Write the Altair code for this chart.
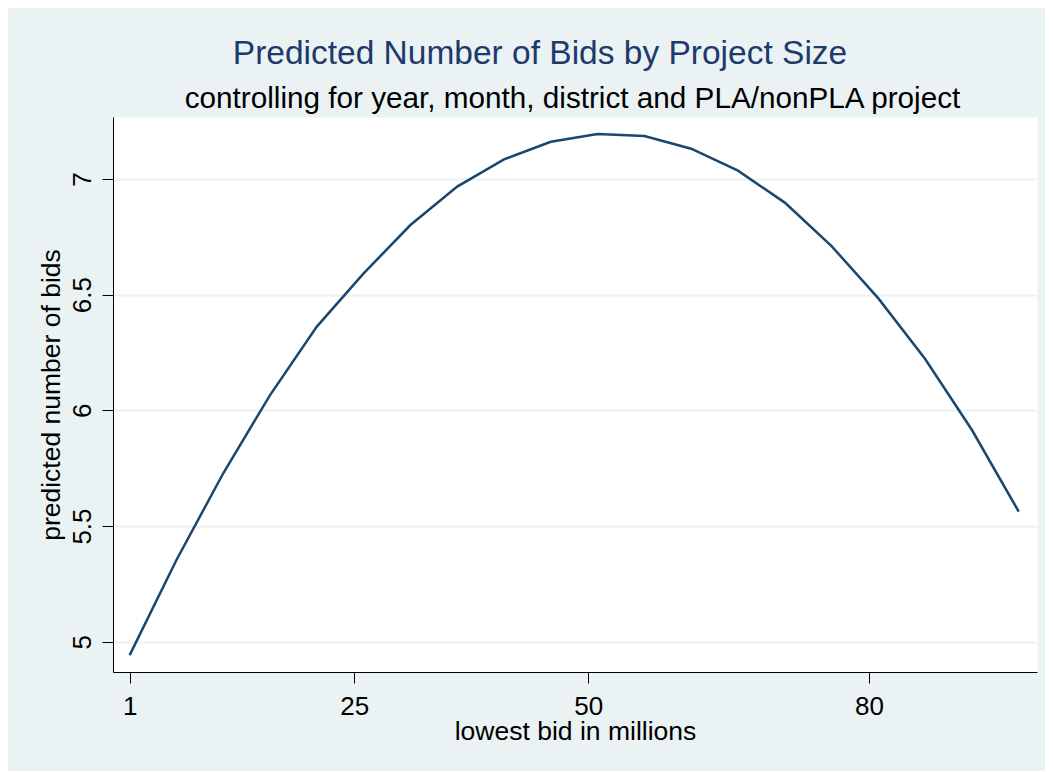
import altair as alt
import pandas as pd

# ---- data ----
lowest_bid = [1, 6, 11, 16, 21, 26, 31, 36, 41, 46, 51, 56, 61, 66, 71, 76, 81, 86, 91, 96]
predicted_bids = [4.942, 5.353, 5.728, 6.066, 6.362, 6.592, 6.801, 6.967, 7.085, 7.161,
                  7.194, 7.186, 7.131, 7.036, 6.898, 6.710, 6.484, 6.222, 5.915, 5.562]
x_ticks = [1, 25, 50, 80]
y_ticks = [5, 5.5, 6, 6.5, 7]

title_text = "Predicted Number of Bids by Project Size"
subtitle_text = "controlling for year, month, district and PLA/nonPLA project"
x_title = "lowest bid in millions"
y_title = "predicted number of bids"

df = pd.DataFrame({"bid": lowest_bid, "pred": predicted_bids})

FONT = "Liberation Sans"
BG = "#eaf2f3"
x_scale = alt.Scale(domain=[-0.78, 97.95], nice=False, zero=False)
y_scale = alt.Scale(domain=[4.869, 7.268], nice=False, zero=False)

y_axis = alt.Axis(
    orient="left", values=y_ticks, format=".1~f", title=y_title,
    grid=True, gridColor=BG, gridWidth=2,
    domainColor="black", domainWidth=1, tickColor="black", tickSize=11, tickWidth=1,
    labelAngle=270, labelAlign="center", labelBaseline="alphabetic", labelPadding=12,
    labelFontSize=26, labelColor="black", labelFont=FONT,
    titleFont=FONT, titleFontSize=26.5, titleFontWeight="normal", titleColor="black",
    titleAngle=270, titleAlign="center", titleBaseline="alphabetic",
    titleX=-54, titleY=277.5,
)
y_enc = alt.Y("pred:Q", scale=y_scale, axis=y_axis)

base = alt.Chart(df)

line = base.mark_line(color="#1a476f", strokeWidth=2.5).encode(
    x=alt.X(
        "bid:Q", scale=x_scale,
        axis=alt.Axis(
            orient="bottom", values=x_ticks, title=x_title, grid=False,
            domainColor="black", domainWidth=1, tickColor="black", tickSize=11, tickWidth=1,
            labelFontSize=26, labelColor="black", labelPadding=10, labelFont=FONT,
            titleFont=FONT, titleFontSize=26.5, titleFontWeight="normal", titleColor="black",
            titleBaseline="alphabetic", titleAlign="center", titleY=67, titleX=462,
        ),
    ),
    y=y_enc,
)

top = base.mark_line(strokeOpacity=0).encode(
    x=alt.X(
        "bid:Q", scale=x_scale,
        axis=alt.Axis(
            orient="top", title=subtitle_text, labels=False, ticks=False, domain=False, grid=False,
            titleFont=FONT, titleFontSize=29.7, titleFontWeight="normal", titleColor="black",
            titleAlign="center", titleBaseline="alphabetic", titleX=459, titleY=-9.7,
        ),
    ),
    y=y_enc,
)

chart = alt.layer(line, top).properties(
    width=924,
    height=555,
    title=alt.TitleParams(
        title_text, fontSize=33.5, font=FONT, fontWeight="normal", color="#1e3a6c",
        anchor="middle", frame="group", dx=-35, offset=-14, baseline="alphabetic",
    ),
    background=BG,
    padding={"left": 105, "top": 109, "right": 8, "bottom": 99},
    autosize=alt.AutoSizeParams(type="none"),
).configure_view(fill="white", stroke="transparent")

chart.save("out.html", embed_options={"renderer": "svg", "actions": False})
